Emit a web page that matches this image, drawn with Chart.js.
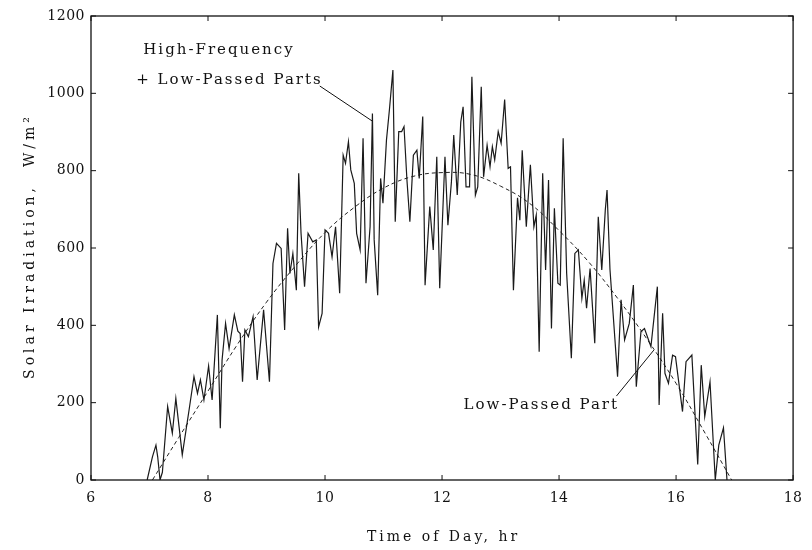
<!DOCTYPE html>
<html>
<head>
<meta charset="utf-8">
<script src="https://cdn.jsdelivr.net/npm/chart.js@4.4.1/dist/chart.umd.min.js"></script>
<style>
  html, body { margin: 0; padding: 0; background: #fff; }
</style>
</head>
<body>
<canvas id="solarChart" width="812" height="550"></canvas>
<script>
const rawHours = [
  6.96, 7.05, 7.11, 7.14, 7.18, 7.22, 7.31, 7.39, 7.45, 7.56,
  7.68, 7.76, 7.82, 7.87, 7.93, 8.01, 8.07, 8.16, 8.21, 8.24,
  8.30, 8.36, 8.45, 8.51, 8.55, 8.59, 8.63, 8.69, 8.77, 8.84,
  8.95, 9.05, 9.11, 9.17, 9.25, 9.31, 9.36, 9.40, 9.45, 9.51,
  9.55, 9.59, 9.65, 9.71, 9.79, 9.85, 9.89, 9.95, 10.00, 10.06,
  10.12, 10.18, 10.25, 10.31, 10.35, 10.40, 10.44, 10.50, 10.54, 10.60,
  10.65, 10.70, 10.77, 10.81, 10.84, 10.90, 10.95, 10.99, 11.05, 11.10,
  11.16, 11.20, 11.26, 11.31, 11.35, 11.40, 11.45, 11.51, 11.57, 11.61,
  11.67, 11.71, 11.79, 11.85, 11.91, 11.96, 12.05, 12.10, 12.16, 12.20,
  12.26, 12.32, 12.36, 12.41, 12.47, 12.51, 12.57, 12.61, 12.67, 12.71,
  12.77, 12.82, 12.86, 12.90, 12.96, 13.01, 13.07, 13.13, 13.17, 13.22,
  13.29, 13.33, 13.37, 13.44, 13.51, 13.57, 13.61, 13.66, 13.72, 13.77,
  13.82, 13.87, 13.92, 13.98, 14.02, 14.07, 14.13, 14.21, 14.27, 14.33,
  14.39, 14.43, 14.47, 14.53, 14.61, 14.67, 14.73, 14.79, 14.82, 14.87,
  15.00, 15.06, 15.12, 15.20, 15.27, 15.32, 15.40, 15.46, 15.57, 15.68,
  15.71, 15.77, 15.81, 15.87, 15.94, 15.99, 16.11, 16.17, 16.27, 16.37,
  16.43, 16.49, 16.58, 16.67, 16.73, 16.81, 16.87
];
const rawIrr = [
  0, 60, 90, 60, 0, 20, 190, 121, 211, 65,
  185, 267, 224, 259, 207, 295, 207, 427, 134, 310,
  405, 340, 427, 385, 379, 254, 388, 371, 422, 259,
  440, 254, 560, 612, 599, 388, 651, 534, 586, 491,
  793, 638, 500, 638, 616, 621, 396, 431, 647, 638,
  577, 655, 483, 840, 819, 875, 802, 767, 638, 595,
  884, 509, 655, 948, 621, 478, 780, 716, 879, 957,
  1060, 668, 901, 901, 914, 776, 668, 840, 853, 780,
  940, 504, 707, 595, 836, 496, 836, 659, 771, 892,
  737, 926, 965, 758, 758, 1043, 737, 758, 1017, 784,
  866, 810, 862, 828, 901, 871, 984, 806, 810, 491,
  730, 672, 853, 655, 815, 655, 685, 332, 793, 543,
  776, 392, 703, 509, 504, 884, 534, 315, 586, 595,
  470, 517, 444, 547, 354, 681, 543, 698, 750, 545,
  267, 466, 362, 405, 504, 241, 384, 392, 345, 500,
  194, 431, 276, 250, 323, 319, 177, 306, 323, 40,
  297, 164, 254, 0, 90, 135, 0
];

// low-passed part (dashed curve)
const smoothHours = [7.05, 7.5, 8.0, 8.5, 9.0, 9.5, 10.0, 10.5, 11.0, 11.5, 12.0,
                     12.5, 13.0, 13.5, 14.0, 14.5, 15.0, 15.5, 16.0, 16.5, 16.95];
const smoothIrr = [0, 110, 230, 350, 460, 555, 640, 705, 755, 785, 795,
                   790, 760, 715, 645, 565, 470, 365, 250, 120, 0];

const xTicks = [6, 8, 10, 12, 14, 16, 18];
const yTicks = [0, 200, 400, 600, 800, 1000, 1200];

const serif = '"DejaVu Serif", "Liberation Serif", serif';
const ink = '#111';

// text notes and their leader lines, placed in data units
const notes = [
  { text: 'High-Frequency', x: 8.17, y: 1112 },
  { text: '+ Low-Passed Parts', x: 8.35, y: 1034 },
  { text: 'Low-Passed Part', x: 13.68, y: 194 }
];
const leaders = [
  { from: [9.91, 1019], to: [10.81, 928] },
  { from: [14.98, 217], to: [15.62, 336] }
];

function spacedText(ctx, text, px, py, size, spacing, rotate) {
  ctx.save();
  ctx.translate(px, py);
  if (rotate) ctx.rotate(-Math.PI / 2);
  ctx.font = size + 'px ' + serif;
  ctx.letterSpacing = spacing + 'px';
  ctx.textAlign = 'center';
  ctx.textBaseline = 'middle';
  ctx.fillStyle = ink;
  ctx.fillText(text, spacing / 2, 0);
  ctx.restore();
}

const framePlugin = {
  id: 'framePlugin',
  beforeDraw(chart) {
    chart.ctx.letterSpacing = '0.5px';
  },
  afterDatasetsDraw(chart) {
    const { ctx, chartArea: a, scales: { x, y } } = chart;
    ctx.save();
    ctx.strokeStyle = ink;
    ctx.lineWidth = 1.3;
    ctx.strokeRect(a.left, a.top, a.right - a.left, a.bottom - a.top);

    ctx.lineWidth = 1;
    ctx.beginPath();
    xTicks.forEach(v => {
      const px = x.getPixelForValue(v);
      ctx.moveTo(px, a.bottom); ctx.lineTo(px, a.bottom - 5);
      ctx.moveTo(px, a.top); ctx.lineTo(px, a.top + 5);
    });
    yTicks.forEach(v => {
      const py = y.getPixelForValue(v);
      ctx.moveTo(a.left, py); ctx.lineTo(a.left + 5, py);
      ctx.moveTo(a.right, py); ctx.lineTo(a.right - 5, py);
    });
    leaders.forEach(l => {
      ctx.moveTo(x.getPixelForValue(l.from[0]), y.getPixelForValue(l.from[1]));
      ctx.lineTo(x.getPixelForValue(l.to[0]), y.getPixelForValue(l.to[1]));
    });
    ctx.stroke();
    ctx.restore();

    notes.forEach(n => spacedText(ctx, n.text, x.getPixelForValue(n.x), y.getPixelForValue(n.y), 15, 2, false));

    // axis titles
    spacedText(ctx, 'Time of Day, hr', (a.left + a.right) / 2, a.bottom + 57, 14, 3, false);
    spacedText(ctx, 'Solar Irradiation,  W/m²', 30, (a.top + a.bottom) / 2, 14, 4, true);
  }
};

new Chart(document.getElementById('solarChart'), {
  type: 'line',
  data: {
    datasets: [
      {
        label: 'High-Frequency + Low-Passed Parts',
        data: rawHours.map((h, i) => ({ x: h, y: rawIrr[i] })),
        borderColor: '#1a1a1a',
        borderWidth: 1.2,
        pointRadius: 0,
        tension: 0
      },
      {
        label: 'Low-Passed Part',
        data: smoothHours.map((h, i) => ({ x: h, y: smoothIrr[i] })),
        borderColor: '#222',
        borderWidth: 1,
        borderDash: [4, 3],
        pointRadius: 0,
        tension: 0.4
      }
    ]
  },
  options: {
    responsive: false,
    animation: false,
    events: [],
    layout: { padding: { top: 16, right: 12, left: 0, bottom: 0 } },
    plugins: { legend: { display: false }, tooltip: { enabled: false } },
    scales: {
      x: {
        type: 'linear',
        min: 6, max: 18,
        afterBuildTicks: s => { s.ticks = xTicks.map(v => ({ value: v })); },
        afterFit: s => { s.height = 70; },
        grid: { display: false, drawTicks: false },
        border: { display: false },
        ticks: { color: ink, padding: 10, maxRotation: 0, callback: v => String(v), font: { family: serif, size: 14 } }
      },
      y: {
        min: 0, max: 1200,
        afterBuildTicks: s => { s.ticks = yTicks.map(v => ({ value: v })); },
        afterFit: s => { s.width = 91; },
        grid: { display: false, drawTicks: false },
        border: { display: false },
        ticks: { color: ink, padding: 6, callback: v => String(v), font: { family: serif, size: 14 } }
      }
    }
  },
  plugins: [framePlugin]
});
</script>
</body>
</html>
